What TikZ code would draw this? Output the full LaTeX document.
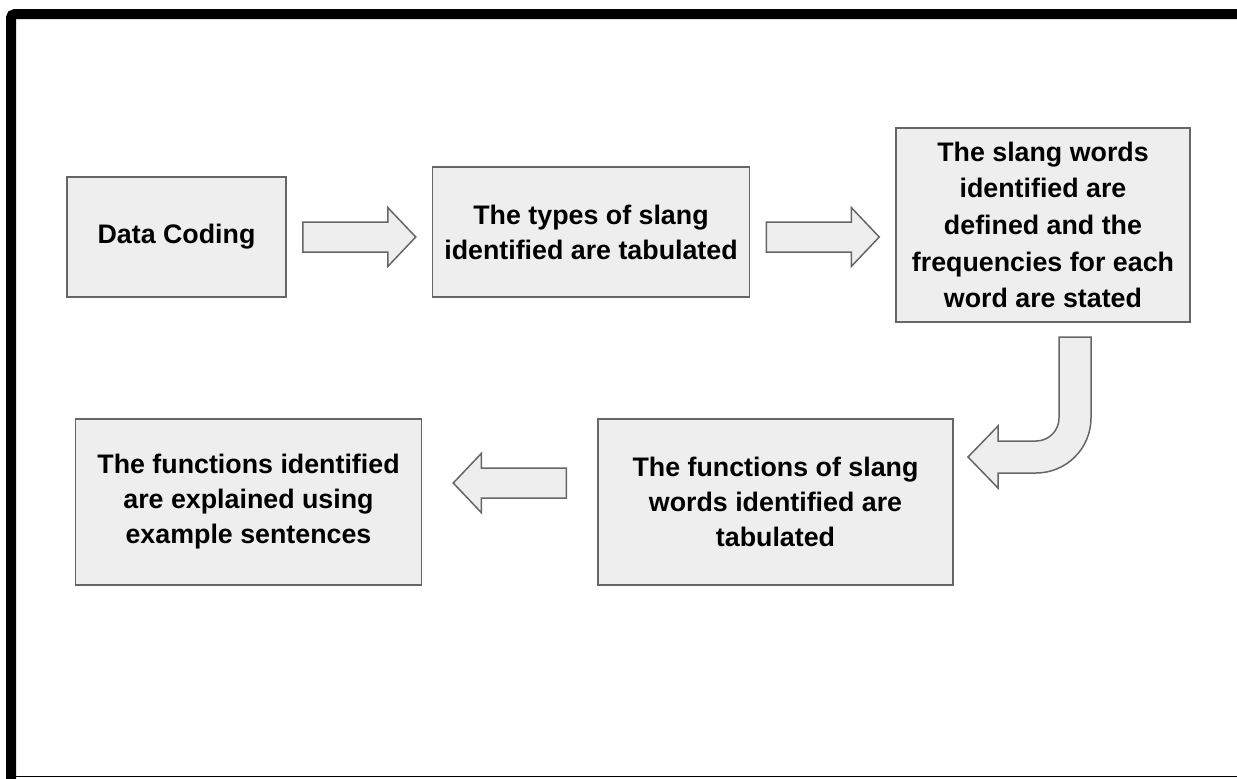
\documentclass[tikz,border=0pt]{standalone}
\usepackage{fontspec}
\setmainfont{Liberation Sans}
\usepackage{xcolor}
\usepackage{tikz}
\usetikzlibrary{positioning,calc}

\definecolor{boxfill}{HTML}{EEEEEE}
\definecolor{boxline}{HTML}{666666}

\begin{document}
\begin{tikzpicture}[
    x=0.5pt, y=-0.5pt,
    box/.style={rectangle, draw=boxline, line width=0.75pt, fill=boxfill, align=center, inner sep=0pt, font=\bfseries\fontsize{13.4}{17.5}\selectfont},
    arrowbody/.style={draw=boxline, line width=0.75pt, fill=boxfill, line join=miter},
    blockarrow/.pic={\draw[arrowbody] (-56.5,-15) -- (28.5,-15) -- (28.5,-29.5) -- (56.5,0) -- (28.5,29.5) -- (28.5,15) -- (-56.5,15) -- cycle;}
]
\useasboundingbox (0,0) rectangle (1237,778);

% Frame
\draw[line width=5pt, rounded corners=2pt] (11,790) -- (11,14) -- (1250,14);
\draw[line width=0.75pt] (11,776.5) -- (1237,776.5);

% Top row
\node[box, minimum width=109.5pt, minimum height=60pt] (dc) at (176.5,237) {Data Coding};
\node[box, minimum width=158.5pt, minimum height=65pt, right=72.5pt of dc, yshift=2.5pt] (types) {The types of slang\\identified are tabulated};
\node[box, minimum width=147pt, minimum height=97pt, right=72.5pt of types, yshift=3.5pt, font=\bfseries\fontsize{13.4}{18.3}\selectfont] (slangdef) {The slang words\\identified are\\defined and the\\frequencies for each\\word are stated};

% Bottom row
\node[box, minimum width=177.5pt, minimum height=83pt] (funcs) at (775.5,502) {The functions of slang\\words identified are\\tabulated};
\node[box, minimum width=173pt, minimum height=83pt, left=87.5pt of funcs] (explain) {The functions identified\\are explained using\\example sentences};

% Block arrows
\pic at ($(dc.east)!0.5!(dc.east -| types.west)$) {blockarrow};
\pic at ($(types.east -| slangdef.west)!0.5!(types.east)+(0,5)$) {blockarrow};
\pic[rotate=180] at ($(funcs.west)!0.5!(explain.east)+(0,-19)$) {blockarrow};

% Bent arrow down to the bottom row
\draw[arrowbody] (1059,337) -- (1091,337) -- (1091,418) arc[start angle=0, end angle=-90, radius=27.5pt]
    -- (998,473) -- (998,488) -- (968,457) -- (998,426) -- (998,441) -- (1036,441)
    arc[start angle=-90, end angle=0, radius=11.5pt] -- cycle;

\end{tikzpicture}
\end{document}
